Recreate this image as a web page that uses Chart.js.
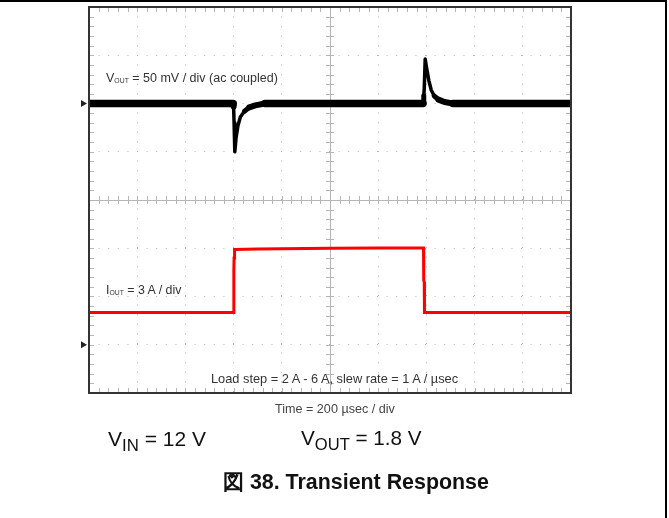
<!DOCTYPE html>
<html>
<head>
<meta charset="utf-8">
<script src="https://cdn.jsdelivr.net/npm/chart.js@4.4.1/dist/chart.umd.min.js"></script>
<style>
  html, body { margin: 0; padding: 0; background: #fff; }
  #page { position: relative; width: 669px; height: 518px; overflow: hidden; font-family: "Liberation Sans", Arial, sans-serif; }
  #frame { position: absolute; left: 0; top: 0; width: 667px; height: 518px; border-top: 2px solid #000; border-right: 2px solid #000; box-sizing: border-box; }
  canvas { position: absolute; left: 0; top: 0; }
  .lbl { position: absolute; white-space: nowrap; color: #333; line-height: 1; }
  .lbl sub { font-size: 0.55em; vertical-align: -0.15em; }
  .big { position: absolute; white-space: nowrap; color: #111; font-size: 20.7px; line-height: 1; }
  .big sub { font-size: 0.8em; vertical-align: -0.3em; }
</style>
</head>
<body>
<div id="page">
  <canvas id="myChart" width="669" height="518"></canvas>
  <div id="frame"></div>
  <div class="lbl" style="left:106px; top:72px; font-size:12.5px;">V<sub>OUT</sub> = 50 mV / div (ac coupled)</div>
  <div class="lbl" style="left:106px; top:284px; font-size:12.4px;">I<sub>OUT</sub> = 3 A / div</div>
  <div class="lbl" style="left:211px; top:373px; font-size:12.8px;">Load step = 2 A - 6 A, slew rate = 1 A / µsec</div>
  <div class="lbl" style="left:275px; top:403px; font-size:12.6px; color:#444;">Time = 200 µsec / div</div>
  <div class="big" style="left:108px; top:428px; font-size:21px;">V<sub>IN</sub> = 12 V</div>
  <div class="big" style="left:301px; top:428px;">V<sub>OUT</sub> = 1.8 V</div>
  <div class="big" style="left:223px; top:472px; font-size:21.4px; font-weight:bold;">図 38. Transient Response</div>
</div>
<script>
// time in µsec (200 µsec / div), 10 divisions
const timeMin = 0;
const timeMax = 2000;

// VOUT (ac coupled), mV, 50 mV / div, ground marker at +2 div
const voutTime = [0, 598, 600, 602, 605, 610, 618, 628, 645, 665, 690, 730, 1386, 1389, 1391, 1395, 1400, 1410, 1420, 1432, 1450, 1475, 1510, 2000];
const voutMv   = [0,   0,  -3, -20, -50, -36, -23, -14,  -8,  -4,  -2,   0,    0,    8,   15,   46,   38,   24,   14,    8,    4,  1.5,    0,    0];

// IOUT, A, 3 A / div, ground marker at -3 div
const ioutTime = [0, 600, 601, 602, 604, 700, 1000, 1200, 1388, 1389, 1391, 1392, 2000];
const ioutAmp  = [2, 2,   4.6, 5.4, 5.92, 5.96, 6.0, 6.02, 6.02, 4.0,  3.9,  2.0,  2.0];

const voutPerDiv = 50;
const voutOffset = 2;
const ioutPerDiv = 3;
const ioutOffset = -3;

const voutPoints = voutTime.map((t, i) => ({ x: t, y: voutOffset + voutMv[i] / voutPerDiv }));
const ioutPoints = ioutTime.map((t, i) => ({ x: t, y: ioutOffset + ioutAmp[i] / ioutPerDiv }));

// noisy band is thick on the flat parts, thinner through the transients
const bandWidth = (c) => {
  const dev = Math.max(Math.abs(c.p0.parsed.y - voutOffset), Math.abs(c.p1.parsed.y - voutOffset));
  if (dev < 0.01) return 7.5;
  if (dev < 0.1) return 6;
  if (dev < 0.2) return 5;
  return 3.5;
};

const scopeMarks = {
  id: 'scopeMarks',
  beforeDatasetsDraw(chart) {
    const { ctx, chartArea: a, scales } = chart;
    const xs = scales.x;
    const ys = scales.y;
    const y0 = ys.getPixelForValue(0);
    const x0 = xs.getPixelForValue(1000);
    ctx.save();
    ctx.strokeStyle = '#b5b5b5';
    ctx.lineWidth = 1;
    ctx.beginPath();
    ctx.moveTo(a.left, Math.round(y0) + 0.5);
    ctx.lineTo(a.right, Math.round(y0) + 0.5);
    ctx.moveTo(Math.round(x0) + 0.5, a.top);
    ctx.lineTo(Math.round(x0) + 0.5, a.bottom);
    for (let t = 40; t < timeMax; t += 40) {
      const px = Math.round(xs.getPixelForValue(t)) + 0.5;
      ctx.moveTo(px, a.top); ctx.lineTo(px, a.top + 5);
      ctx.moveTo(px, a.bottom); ctx.lineTo(px, a.bottom - 5);
      ctx.moveTo(px, y0 - 4); ctx.lineTo(px, y0 + 4);
    }
    for (let d = -3.8; d < 4; d += 0.2) {
      const py = Math.round(ys.getPixelForValue(d)) + 0.5;
      ctx.moveTo(a.left, py); ctx.lineTo(a.left + 5, py);
      ctx.moveTo(a.right, py); ctx.lineTo(a.right - 5, py);
      ctx.moveTo(x0 - 4, py); ctx.lineTo(x0 + 4, py);
    }
    ctx.stroke();
    ctx.restore();
  },
  afterDatasetsDraw(chart) {
    const { ctx, chartArea: a, scales } = chart;
    ctx.save();
    ctx.strokeStyle = '#333';
    ctx.lineWidth = 2;
    ctx.strokeRect(a.left, a.top, a.right - a.left, a.bottom - a.top);
    // channel ground markers
    ctx.fillStyle = '#222';
    [voutOffset, ioutOffset].forEach((v) => {
      const py = scales.y.getPixelForValue(v);
      ctx.beginPath();
      ctx.moveTo(a.left - 8, py - 3.5);
      ctx.lineTo(a.left - 2, py);
      ctx.lineTo(a.left - 8, py + 3.5);
      ctx.closePath();
      ctx.fill();
    });
    ctx.restore();
  },
};

const ctx = document.getElementById('myChart');
const myChart = new Chart(ctx, {
  type: 'line',
  plugins: [scopeMarks],
  data: {
    datasets: [
      {
        label: 'VOUT',
        data: voutPoints,
        borderColor: '#000',
        borderWidth: 7.5,
        borderJoinStyle: 'round',
        borderCapStyle: 'round',
        pointRadius: 0,
        tension: 0,
        segment: { borderWidth: bandWidth },
      },
      {
        label: 'IOUT',
        data: ioutPoints,
        borderColor: '#ff0000',
        borderWidth: 3,
        pointRadius: 0,
        tension: 0,
      },
    ],
  },
  options: {
    responsive: false,
    animation: false,
    layout: { padding: { left: 89, top: 7, right: 98, bottom: 125 } },
    scales: {
      x: {
        type: 'linear',
        min: timeMin,
        max: timeMax,
        ticks: { display: false, stepSize: 200 },
        grid: { color: '#b5b5b5', drawTicks: false },
        border: { display: false, dash: [1, 8.6] },
      },
      y: {
        type: 'linear',
        min: -4,
        max: 4,
        ticks: { display: false, stepSize: 1 },
        grid: { color: '#b5b5b5', drawTicks: false },
        border: { display: false, dash: [1, 8.6] },
      },
    },
    plugins: {
      legend: { display: false },
      tooltip: { enabled: false },
    },
  },
});
</script>
</body>
</html>
